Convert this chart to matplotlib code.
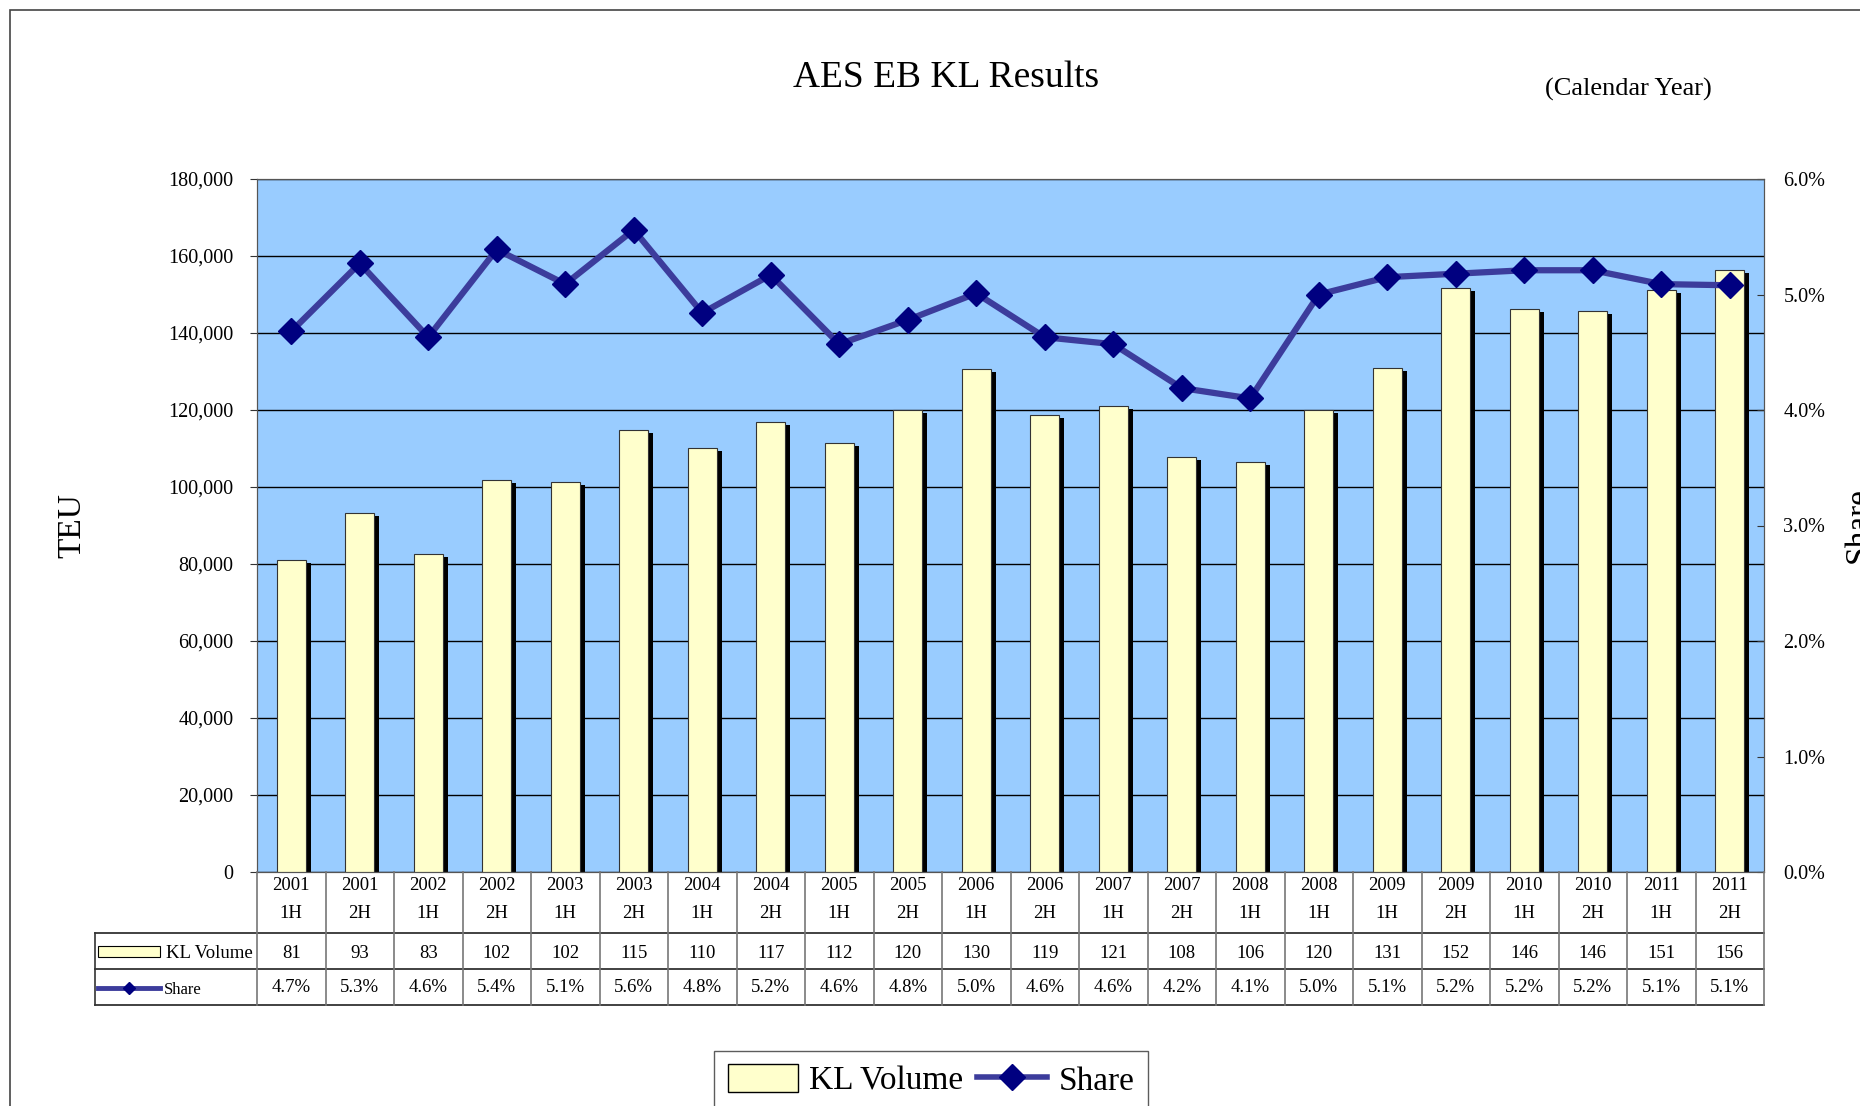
"""AES EB KL Results: half-year volume bars with share line and data table."""

import matplotlib
matplotlib.use('Agg')
import matplotlib.pyplot as plt
import matplotlib.patches as mpatches
from matplotlib.lines import Line2D
from matplotlib.ticker import FuncFormatter, MultipleLocator
from matplotlib.transforms import blended_transform_factory
import numpy as np

years = ['2001', '2001', '2002', '2002', '2003', '2003', '2004', '2004', '2005', '2005', '2006',
         '2006', '2007', '2007', '2008', '2008', '2009', '2009', '2010', '2010', '2011', '2011']
halves = ['1H', '2H', '1H', '2H', '1H', '2H', '1H', '2H', '1H', '2H', '1H',
          '2H', '1H', '2H', '1H', '1H', '1H', '2H', '1H', '2H', '1H', '2H']
volume = [81000, 93200, 82600, 101900, 101400, 114800, 110100, 116900, 111500, 120100, 130600,
          118700, 121000, 107700, 106500, 120000, 131000, 151800, 146200, 145700, 151100, 156400]
volume_labels = ['81', '93', '83', '102', '102', '115', '110', '117', '112', '120', '130',
                 '119', '121', '108', '106', '120', '131', '152', '146', '146', '151', '156']
share = [4.68, 5.27, 4.63, 5.39, 5.09, 5.56, 4.84, 5.17, 4.57, 4.78, 5.01,
         4.63, 4.57, 4.19, 4.10, 5.00, 5.15, 5.18, 5.21, 5.21, 5.09, 5.08]
share_labels = ['4.7%', '5.3%', '4.6%', '5.4%', '5.1%', '5.6%', '4.8%', '5.2%', '4.6%', '4.8%', '5.0%',
                '4.6%', '4.6%', '4.2%', '4.1%', '5.0%', '5.1%', '5.2%', '5.2%', '5.2%', '5.1%', '5.1%']

W, H = 1860, 1106
BAR_FACE = '#FFFFCC'
BG = '#99CCFF'
LINE_C = '#3C3C9C'
MARK_C = '#000080'

plt.rcParams['font.family'] = ['Liberation Serif', 'DejaVu Serif']


def fx(x):
    return x / W


def fy(y):
    return 1 - y / H


fig = plt.figure(figsize=(W / 100, H / 100), dpi=100)

# outer frame (only its top and left edges fall inside the picture)
fig.patches.append(mpatches.Rectangle((fx(10), -0.5), 1.5, fy(10) + 0.5, transform=fig.transFigure,
                                      fill=False, edgecolor='#444444', lw=1.2))

left, right, top, bottom = 257, 1764, 179, 872
ax = fig.add_axes([fx(left), fy(bottom), fx(right - left), (bottom - top) / H])
ax.set_facecolor(BG)

n = len(volume)
x = np.arange(n)
width = 0.43
dx = 5 / ((right - left) / n)
dy = 3 * 180000 / (bottom - top)

ax.bar(x + dx, np.array(volume) - dy, width=width, color='black', zorder=2)
ax.bar(x, volume, width=width, color=BAR_FACE, edgecolor='#333333', linewidth=0.8, zorder=3)

ax.set_xlim(-0.5, n - 0.5)
ax.set_ylim(0, 180000)
ax.yaxis.set_major_locator(MultipleLocator(20000))
ax.yaxis.set_major_formatter(FuncFormatter(lambda v, p: f'{int(v):,}'))
ax.grid(axis='y', color='black', lw=1.0, zorder=1)
ax.set_axisbelow(True)
ax.set_xticks([])
ax.tick_params(axis='y', labelsize=14.5, direction='out', length=5, pad=12, color='#333333')
for s in ax.spines.values():
    s.set_color('#555555')
ax.set_ylabel('TEU', fontsize=24, labelpad=58)

ax2 = ax.twinx()
ax2.plot(x, share, color=LINE_C, lw=4.5, zorder=5)
ax2.plot(x, share, ls='none', marker='D', markersize=13, color=MARK_C, zorder=6)
ax2.set_ylim(0, 6)
ax2.yaxis.set_major_locator(MultipleLocator(1))
ax2.yaxis.set_major_formatter(FuncFormatter(lambda v, p: f'{v:.1f}%'))
ax2.tick_params(axis='y', labelsize=14.5, direction='in', length=5, pad=14, color='#333333')
for s in ax2.spines.values():
    s.set_color('#555555')

fig.text(fx(1843), fy(525), 'Share', rotation=90, fontsize=24, ha='left', va='center')

# titles
fig.text(fx(946), fy(78), 'AES EB KL Results', fontsize=27, ha='center', va='center')
fig.text(fx(1628), fy(89), '(Calendar Year)', fontsize=19, ha='center', va='center')

# data table under the plot
tr = blended_transform_factory(ax.transData, fig.transFigure)
row_y = [872, 933, 969, 1005]
lc = '#333333'
for yy in row_y[1:]:
    fig.add_artist(Line2D([fx(95), fx(right)], [fy(yy), fy(yy)], color=lc, lw=1.3))
for i in range(n + 1):
    fig.add_artist(Line2D([i - 0.5, i - 0.5], [fy(872), fy(1005)], transform=tr, color='#777777', lw=1.2))
fig.add_artist(Line2D([fx(95), fx(95)], [fy(933), fy(1005)], color=lc, lw=1.2))

for i in range(n):
    ax.text(i, fy(886), years[i], transform=tr, ha='center', va='center', fontsize=13.5)
    ax.text(i, fy(913), halves[i], transform=tr, ha='center', va='center', fontsize=13.5)
    ax.text(i, fy(954), volume_labels[i], transform=tr, ha='center', va='center', fontsize=13.5)
    ax.text(i, fy(988), share_labels[i], transform=tr, ha='center', va='center', fontsize=13.5)

fig.patches.append(mpatches.Rectangle((fx(98), fy(957)), fx(62), 11 / H, transform=fig.transFigure,
                                      facecolor=BAR_FACE, edgecolor='black', lw=0.8))
fig.text(fx(166), fy(954), 'KL Volume', fontsize=13.5, ha='left', va='center')
fig.add_artist(Line2D([fx(98), fx(160)], [fy(988), fy(988)], color=LINE_C, lw=3.5))
fig.add_artist(Line2D([fx(129)], [fy(988)], marker='D', markersize=6, color=MARK_C))
fig.text(fx(164), fy(990), 'Share', fontsize=12, ha='left', va='center')

# legend (its bottom edge runs off the picture like the original)
handles = [mpatches.Patch(facecolor=BAR_FACE, edgecolor='black', lw=1),
           Line2D([], [], color=LINE_C, lw=4, marker='D', markersize=13, markerfacecolor=MARK_C,
                  markeredgecolor=MARK_C)]
leg = fig.legend(handles, ['KL Volume', 'Share'], loc='upper center', bbox_to_anchor=(fx(931), fy(1051)),
                 ncol=2, fontsize=24, frameon=True, fancybox=False, handlelength=2.1, handleheight=0.9,
                 columnspacing=0.4, handletextpad=0.35, borderpad=0.4, borderaxespad=0)
leg.get_frame().set_edgecolor('#333333')
leg.get_frame().set_linewidth(1.0)

fig.savefig('out.png', dpi=100)
